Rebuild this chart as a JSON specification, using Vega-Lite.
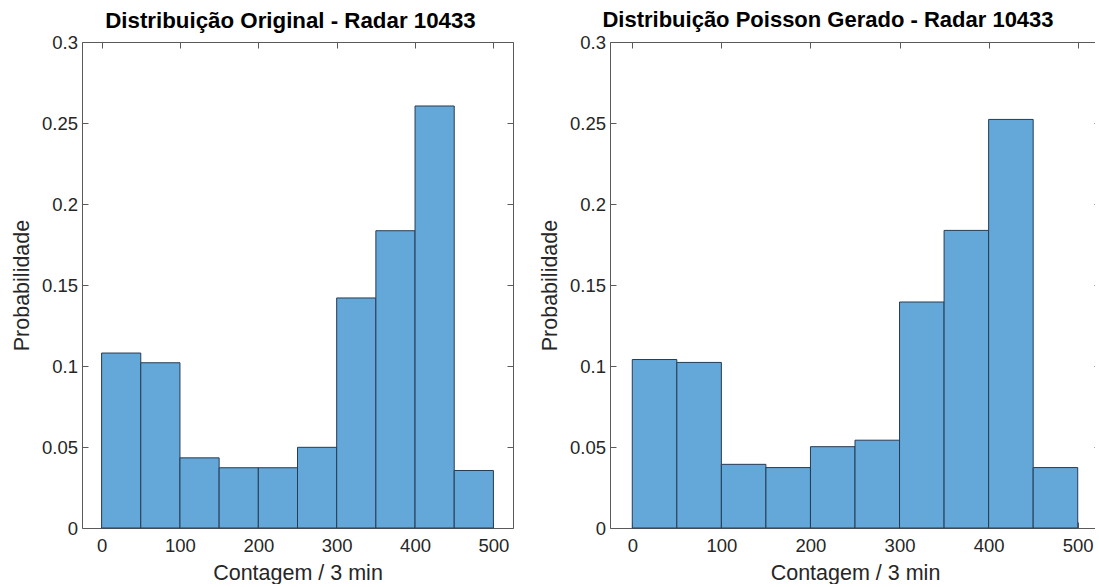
{
  "$schema": "https://vega.github.io/schema/vega-lite/v6.json",
  "autosize": {"type": "pad"},
  "padding": {"left": 11, "top": 9, "right": -6, "bottom": 0},
  "background": "white",
  "spacing": 25,
  "config": {
    "font": "Liberation Sans",
    "view": {"stroke": null},
    "axis": {
      "labelFont": "Liberation Sans",
      "labelFontSize": 18.5,
      "labelColor": "#262626",
      "titleFont": "Liberation Sans",
      "titleFontSize": 21.5,
      "titleFontWeight": "normal",
      "titleColor": "#262626",
      "domainColor": "#5a5a5a",
      "domainWidth": 1,
      "tickColor": "#5a5a5a",
      "tickWidth": 1,
      "tickSize": -6,
      "grid": false
    },
    "title": {"font": "Liberation Sans", "fontSize": 22, "fontWeight": "bold", "color": "#000000", "offset": 1}
  },
  "datasets": {
    "orig": [
      {"x0": 0, "x1": 50, "p": 0.108},
      {"x0": 50, "x1": 100, "p": 0.102},
      {"x0": 100, "x1": 150, "p": 0.0433},
      {"x0": 150, "x1": 200, "p": 0.0372},
      {"x0": 200, "x1": 250, "p": 0.0372},
      {"x0": 250, "x1": 300, "p": 0.0498},
      {"x0": 300, "x1": 350, "p": 0.142},
      {"x0": 350, "x1": 400, "p": 0.1835},
      {"x0": 400, "x1": 450, "p": 0.2605},
      {"x0": 450, "x1": 500, "p": 0.0355}
    ],
    "pois": [
      {"x0": 0, "x1": 50, "p": 0.104},
      {"x0": 50, "x1": 100, "p": 0.1022},
      {"x0": 100, "x1": 150, "p": 0.0393},
      {"x0": 150, "x1": 200, "p": 0.0373},
      {"x0": 200, "x1": 250, "p": 0.0502},
      {"x0": 250, "x1": 300, "p": 0.0542},
      {"x0": 300, "x1": 350, "p": 0.1395},
      {"x0": 350, "x1": 400, "p": 0.1837},
      {"x0": 400, "x1": 450, "p": 0.2522},
      {"x0": 450, "x1": 500, "p": 0.0373}
    ]
  },
  "hconcat": [
    {
      "width": 431,
      "height": 486,
      "title": {"text": "Distribuição Original - Radar 10433", "dx": -7, "fontSize": 22.3},
      "data": {"name": "orig"},
      "layer": [
        {
          "mark": {"type": "bar", "fill": "#63a8d8", "stroke": "#263c55", "strokeWidth": 1},
          "encoding": {
            "x": {"field": "x0", "type": "quantitative", "scale": {"domain": [-25, 525], "nice": false, "zero": false},
                  "axis": {"orient": "bottom", "values": [0, 100, 200, 300, 400, 500], "title": "Contagem / 3 min", "labelPadding": 14, "titlePadding": 8}},
            "x2": {"field": "x1"},
            "y": {"field": "p", "type": "quantitative", "scale": {"domain": [0, 0.3], "nice": false},
                  "axis": {"orient": "left", "values": [0, 0.05, 0.1, 0.15, 0.2, 0.25, 0.3], "format": "~g", "title": "Probabilidade", "labelPadding": 10.5, "titlePadding": 7.5}},
            "y2": {"datum": 0}
          }
        },
        {
          "mark": {"type": "point", "opacity": 0},
          "encoding": {
            "x": {"field": "x0", "type": "quantitative", "axis": {"orient": "top", "values": [0, 100, 200, 300, 400, 500], "labels": false, "title": null}},
            "y": {"field": "p", "type": "quantitative", "axis": {"orient": "right", "values": [0, 0.05, 0.1, 0.15, 0.2, 0.25, 0.3], "labels": false, "title": null}}
          }
        }
      ],
      "resolve": {"axis": {"x": "independent", "y": "independent"}}
    },
    {
      "width": 490,
      "height": 486,
      "title": {"text": "Distribuição Poisson Gerado - Radar 10433", "dx": -27, "fontSize": 22},
      "data": {"name": "pois"},
      "layer": [
        {
          "mark": {"type": "bar", "fill": "#63a8d8", "stroke": "#263c55", "strokeWidth": 1},
          "encoding": {
            "x": {"field": "x0", "type": "quantitative", "scale": {"domain": [-25, 525], "nice": false, "zero": false},
                  "axis": {"orient": "bottom", "values": [0, 100, 200, 300, 400, 500], "title": "Contagem / 3 min", "labelPadding": 14, "titlePadding": 8}},
            "x2": {"field": "x1"},
            "y": {"field": "p", "type": "quantitative", "scale": {"domain": [0, 0.3], "nice": false},
                  "axis": {"orient": "left", "values": [0, 0.05, 0.1, 0.15, 0.2, 0.25, 0.3], "format": "~g", "title": "Probabilidade", "labelPadding": 10.5, "titlePadding": 7.5}},
            "y2": {"datum": 0}
          }
        },
        {
          "mark": {"type": "point", "opacity": 0},
          "encoding": {
            "x": {"field": "x0", "type": "quantitative", "axis": {"orient": "top", "values": [0, 100, 200, 300, 400, 500], "labels": false, "title": null}},
            "y": {"field": "p", "type": "quantitative", "axis": {"orient": "right", "values": [0, 0.05, 0.1, 0.15, 0.2, 0.25, 0.3], "labels": false, "title": null}}
          }
        }
      ],
      "resolve": {"axis": {"x": "independent", "y": "independent"}}
    }
  ]
}
